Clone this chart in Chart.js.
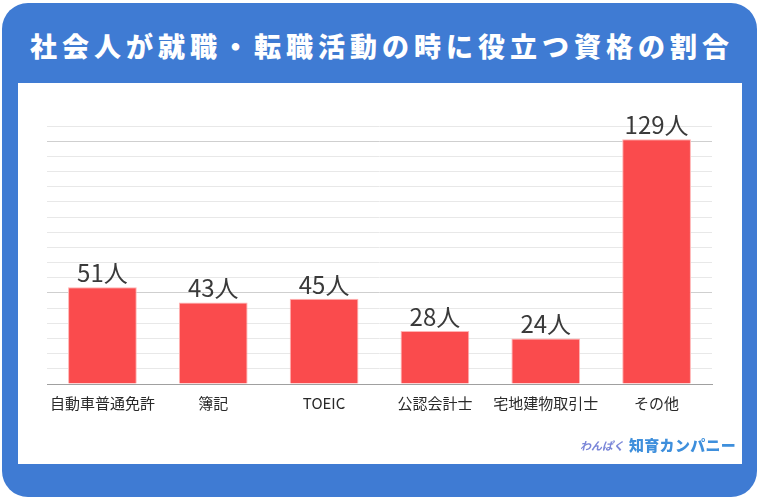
<!DOCTYPE html>
<html lang="ja">
<head>
<meta charset="utf-8">
<script src="https://cdn.jsdelivr.net/npm/chart.js@4.4.1/dist/chart.umd.min.js"></script>
<style>
    body { margin: 0; background: #fff; font-family: "Noto Sans CJK JP", sans-serif; }
    #frame { position: absolute; left: 2px; top: 3px; width: 755px; height: 494px; background: #3f7bd3; border-radius: 26px; }
    #title { position: absolute; left: 2px; top: 26px; width: 760px; text-align: center; color: #fff;
        font-size: 27px; font-weight: 900; letter-spacing: 5px; line-height: 40px; margin: 0; }
    #panel { position: absolute; left: 18px; top: 83px; width: 724px; height: 381px; background: #fff; }
    #logo { position: absolute; left: 580px; top: 430px; white-space: nowrap; }
    #logo .a { font-size: 11px; font-weight: 700; font-style: italic; color: #7a86d8; vertical-align: middle; }
    #logo .b { font-size: 15px; font-weight: 900; color: #3e8fdc; letter-spacing: 0.3px; vertical-align: middle; margin-left: 5px; }
</style>
</head>
<body>
<div id="frame"></div>
<h1 id="title">社会人が就職・転職活動の時に役立つ資格の割合</h1>
<div id="panel"><canvas id="grafico" width="724" height="381"></canvas></div>
<div id="logo"><span class="a">わんぱく</span><span class="b">知育カンパニー</span></div>
<script>
const categorias = ['自動車普通免許', '簿記', 'TOEIC', '公認会計士', '宅地建物取引士', 'その他'];
const personas = [51, 43, 45, 28, 24, 129];
const unidad = '人';

// etiquetas encima de cada barra
const etiquetas = {
    id: 'etiquetas',
    afterDatasetsDraw(chart) {
        const ctx = chart.ctx;
        const meta = chart.getDatasetMeta(0);
        ctx.save();
        ctx.font = '24px "Noto Sans CJK JP", sans-serif';
        ctx.fillStyle = '#3a3a3a';
        ctx.textAlign = 'center';
        ctx.textBaseline = 'alphabetic';
        meta.data.forEach((bar, i) => {
            ctx.fillText(personas[i] + unidad, bar.x, bar.y - 5);
        });
        ctx.restore();
    }
};

new Chart(document.getElementById('grafico').getContext('2d'), {
    type: 'bar',
    data: {
        labels: categorias,
        datasets: [{
            data: personas,
            backgroundColor: '#fa4b4d',
            borderColor: '#ffb4b4',
            borderWidth: 1,
            barPercentage: 0.62,
            categoryPercentage: 1
        }]
    },
    options: {
        responsive: false,
        animation: false,
        layout: { padding: { left: 29, right: 30, top: 43, bottom: 50 } },
        plugins: { legend: { display: false }, tooltip: { enabled: false } },
        scales: {
            x: {
                grid: { display: false },
                border: { color: '#a0a0a0', width: 1 },
                ticks: {
                    color: '#2a2a2a', font: { size: 15, family: '"Noto Sans CJK JP", sans-serif' },
                    padding: 2, maxRotation: 0, minRotation: 0, autoSkip: false
                }
            },
            y: {
                min: 0,
                max: 136,
                ticks: { display: false, stepSize: 8 },
                border: { display: false },
                grid: {
                    drawTicks: false,
                    color: c => (c.tick.value === 48 || c.tick.value === 128) ? '#cfcfcf' : '#e8e8e8'
                }
            }
        }
    },
    plugins: [etiquetas]
});
</script>
</body>
</html>
